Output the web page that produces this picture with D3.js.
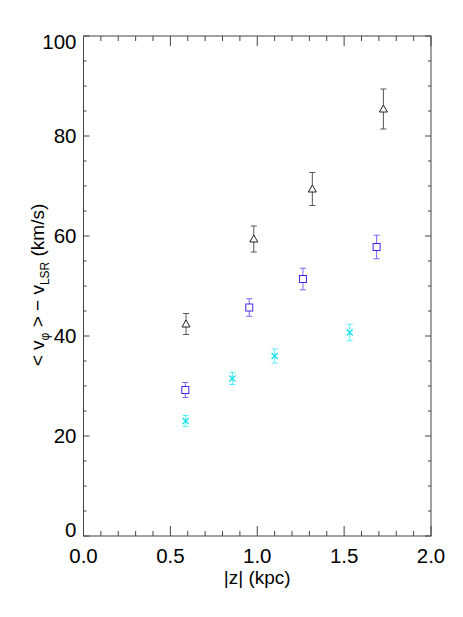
<!DOCTYPE html>
<html><head><meta charset="utf-8">
<script src="https://cdn.jsdelivr.net/npm/d3@7"></script>
<style>body{margin:0;background:#fff}svg{display:block}text{font-family:"Liberation Sans",Arial,sans-serif;fill:#000}</style>
</head><body>
<script>
const triZ = [0.59, 0.98, 1.317, 1.726];
const triV = [42.4, 59.4, 69.4, 85.4];
const triE = [2.1, 2.6, 3.3, 4.0];
const sqZ = [0.586, 0.954, 1.263, 1.687];
const sqV = [29.2, 45.7, 51.4, 57.8];
const sqE = [1.5, 1.75, 2.15, 2.35];
const crZ = [0.588, 0.857, 1.10, 1.532];
const crV = [23.0, 31.5, 36.0, 40.7];
const crE = [1.1, 1.2, 1.4, 1.65];
const xTicks = [0.0, 0.5, 1.0, 1.5, 2.0];
const yTicks = [0, 20, 40, 60, 80, 100];

const W = 463, H = 617;
const L = 83.5, R = 431, T = 36, B = 536;
const svg = d3.select("body").append("svg").attr("width", W).attr("height", H);
const x = d3.scaleLinear().domain([0, 2]).range([L, R]);
const y = d3.scaleLinear().domain([0, 100]).range([B, T]);
const axisCol = "#444";

svg.append("rect").attr("x", L).attr("y", T).attr("width", R - L).attr("height", B - T)
  .attr("fill", "none").attr("stroke", axisCol).attr("stroke-width", 1);

const xMinor = d3.range(0, 21).map(d => d / 10);
const yMinor = d3.range(0, 21).map(d => d * 5);
const g = svg.append("g").attr("stroke", axisCol).attr("stroke-width", 1);
xMinor.forEach(v => {
  const major = Math.abs(v * 2 - Math.round(v * 2)) < 1e-6;
  const len = major ? 10 : 5;
  g.append("line").attr("x1", x(v)).attr("x2", x(v)).attr("y1", B).attr("y2", B - len);
  g.append("line").attr("x1", x(v)).attr("x2", x(v)).attr("y1", T).attr("y2", T + len);
});
yMinor.forEach(v => {
  const major = v % 20 === 0;
  const len = major ? 6 : 3;
  g.append("line").attr("y1", y(v)).attr("y2", y(v)).attr("x1", L).attr("x2", L + len);
  g.append("line").attr("y1", y(v)).attr("y2", y(v)).attr("x1", R).attr("x2", R - len);
});

xTicks.forEach(v => {
  svg.append("text").attr("x", x(v)).attr("y", B + 27).attr("text-anchor", "middle")
    .attr("font-size", 20.5).text(v.toFixed(1));
});
yTicks.forEach(v => {
  let cy = y(v);
  cy = Math.max(T + 5.5, Math.min(B - 6, cy));
  svg.append("text").attr("x", L - 7).attr("y", cy + 7.3).attr("text-anchor", "end")
    .attr("font-size", 20.5).text(v);
});

svg.append("text").attr("x", (L + R) / 2).attr("y", 584).attr("text-anchor", "middle")
  .attr("font-size", 19).text("|z| (kpc)");
const yt = svg.append("text").attr("transform", "translate(44,285) rotate(-90)")
  .attr("text-anchor", "middle").attr("font-size", 19);
yt.append("tspan").text("< v");
yt.append("tspan").attr("font-size", 12).attr("dy", 5).text("\u03c6");
yt.append("tspan").attr("dy", -5).text(" > \u2212 v");
yt.append("tspan").attr("font-size", 12).attr("dy", 5).text("LSR");
yt.append("tspan").attr("dy", -5).text(" (km/s)");

function errbars(zs, vs, es, col) {
  const eg = svg.append("g").attr("stroke", col).attr("stroke-width", 1);
  zs.forEach((z, i) => {
    const cx = x(z), y1 = y(vs[i] + es[i]), y2 = y(vs[i] - es[i]);
    eg.append("line").attr("x1", cx).attr("x2", cx).attr("y1", y1).attr("y2", y2);
    eg.append("line").attr("x1", cx - 3).attr("x2", cx + 3).attr("y1", y1).attr("y2", y1);
    eg.append("line").attr("x1", cx - 3).attr("x2", cx + 3).attr("y1", y2).attr("y2", y2);
  });
}
errbars(triZ, triV, triE, "#555");
errbars(sqZ, sqV, sqE, "#7a66ff");
errbars(crZ, crV, crE, "#55eeff");

const mt = svg.append("g");
triZ.forEach((z, i) => {
  const cx = x(z), cy = y(triV[i]);
  mt.append("path").attr("d", `M${cx},${cy - 4}L${cx + 4},${cy + 3}L${cx - 4},${cy + 3}Z`)
    .attr("fill", "#fff").attr("stroke", "#222").attr("stroke-width", 1);
});
sqZ.forEach((z, i) => {
  const cx = x(z), cy = y(sqV[i]);
  mt.append("rect").attr("x", cx - 3.5).attr("y", cy - 3.5).attr("width", 7).attr("height", 7)
    .attr("fill", "#fff").attr("stroke", "#4422ee").attr("stroke-width", 1);
});
crZ.forEach((z, i) => {
  const cx = x(z), cy = y(crV[i]);
  mt.append("path").attr("d", `M${cx - 3},${cy - 3}L${cx + 3},${cy + 3}M${cx + 3},${cy - 3}L${cx - 3},${cy + 3}`)
    .attr("stroke", "#11dde8").attr("stroke-width", 1.2);
});
</script>
</body></html>
